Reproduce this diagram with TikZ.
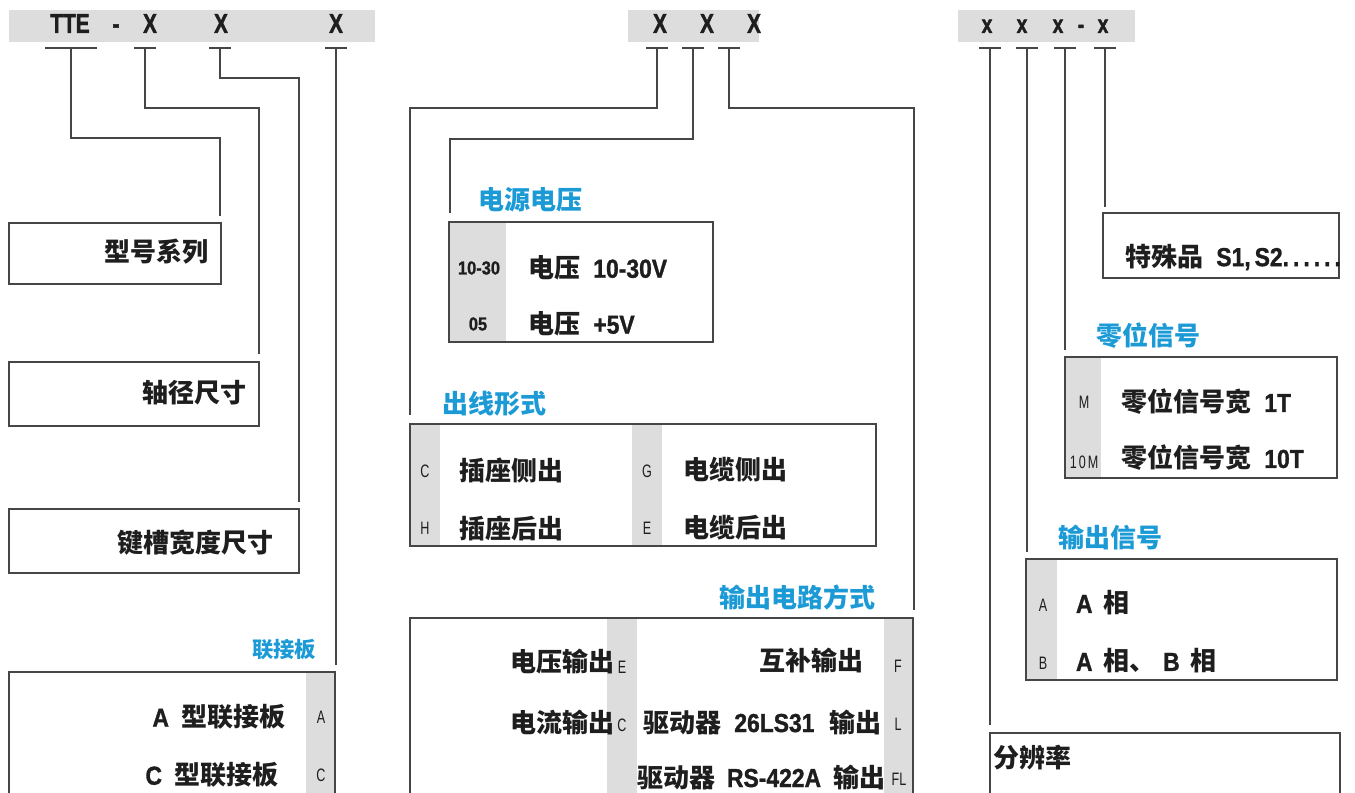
\documentclass[tikz,border=0pt]{standalone}
\usepackage{fontspec}
\setmainfont{Liberation Sans}
\newfontfamily\cjk{Noto Sans CJK SC}
\newfontfamily\latn{Liberation Sans}[FakeStretch=0.88, BoldFeatures={FakeBold=1.2}]
\newfontfamily\hdrf{Liberation Sans}[FakeStretch=0.76, BoldFeatures={FakeBold=1.6}]
\newfontfamily\smlf{Liberation Sans}[FakeStretch=0.7]
\usetikzlibrary{fit,calc}
\definecolor{hdgray}{RGB}{221,221,221}
\definecolor{ttlblue}{RGB}{27,154,214}
\definecolor{ink}{RGB}{30,30,30}
\definecolor{lnc}{RGB}{70,70,70}
\newcommand\lt[1]{{\latn\bfseries\fontsize{19.5}{21}\selectfont #1}}
\tikzset{
 every node/.style={inner sep=0pt, outer sep=0pt},
 box/.style={draw=lnc, line width=0.9pt},
 gcol/.style={fill=hdgray},
 hdbar/.style={fill=hdgray},
 conn/.style={draw=lnc, line width=0.8pt},
 hdtxt/.style={font=\hdrf\bfseries\fontsize{20.5}{22}\selectfont, text=ink, anchor=base},
 hdtxs/.style={font=\hdrf\bfseries\fontsize{19}{22}\selectfont, text=ink, anchor=base},
 cj/.style={font=\cjk\bfseries\fontsize{19.5}{22}\selectfont, text=ink},
 ttl/.style={font=\cjk\bfseries\fontsize{19.5}{22}\selectfont, text=ttlblue},
 ttls/.style={font=\cjk\bfseries\fontsize{16}{18}\selectfont, text=ttlblue},
 sm/.style={font=\smlf\fontsize{13.5}{15}\selectfont, text=ink},
 smb/.style={font=\latn\bfseries\fontsize{14}{16}\selectfont, text=ink},
}
\begin{document}
\begin{tikzpicture}[x=0.75pt,y=-0.75pt]
\clip (0,0) rectangle (1355,792);
% ===== left header =====
\node[hdbar, fit={(9,10)(375,42)}] (hdL) {};
\node[hdtxt] (tT) at (70,33) {TTE};
\node[hdtxt] (tD) at (116,33) {-};
\node[hdtxt] (tX1) at (150,33) {X};
\node[hdtxt] (tX2) at (221,33) {X};
\node[hdtxt] (tX3) at (336,33) {X};
\coordinate (uT) at (71,48);
\coordinate (uX1) at (145,48);
\coordinate (uX2) at (220,48);
\coordinate (uX3) at (336,48);
\draw[conn] ($(uT)+(-26,0)$) -- ($(uT)+(26,0)$);
\foreach \u in {uX1,uX2,uX3} \draw[conn] ($(\u)+(-11,0)$) -- ($(\u)+(11,0)$);
% left boxes
\node[box, fit={(9,223)(221,284)}] (bSer) {};
\node[cj, anchor=east] (tSer) at (208,252) {型号系列};
\node[box, fit={(9,362)(259,426)}] (bAx) {};
\node[cj, anchor=east] (tAx) at (246,393) {轴径尺寸};
\node[box, fit={(9,509)(299,573)}] (bKey) {};
\node[cj, anchor=east] (tKey) at (273,543) {键槽宽度尺寸};
\node[ttls, anchor=west] (tPlT) at (252,650) {联接板};
\node[gcol, fit={(306,672)(335,800)}] (gPl) {};
\node[box, fit={(9,672)(335,800)}] (bPl) {};
\node[cj, anchor=east] (tPa) at (285,717) {\lt{A}\hspace{9pt}型联接板};
\node[cj, anchor=east] (tPc) at (278,775) {\lt{C}\hspace{9pt}型联接板};
\node[sm] (lPa) at (321,717) {A};
\node[sm] (lPc) at (321,775) {C};
\draw[conn] (uT) -- ++(0,90) -| ($(bSer.north east)+(-1,-7)$);
\draw[conn] (uX1) -- ++(0,60) -| ($(bAx.north east)+(0,-8)$);
\draw[conn] (uX2) -- ++(0,30) -| ($(bKey.north east)+(0,-7)$);
\draw[conn] (uX3) -- ($(uX3 |- bPl.north)+(0,-7)$);
% ===== middle header =====
\node[hdbar, fit={(628,10)(759,42)}] (hdM) {};
\node[hdtxt] (tM1) at (660,33) {X};
\node[hdtxt] (tM2) at (707,33) {X};
\node[hdtxt] (tM3) at (754,33) {X};
\coordinate (uM1) at (657,48);
\coordinate (uM2) at (693,48);
\coordinate (uM3) at (729,48);
\foreach \u in {uM1,uM2,uM3} \draw[conn] ($(\u)+(-11,0)$) -- ($(\u)+(11,0)$);
% supply voltage
\node[ttl, anchor=west] (tVT) at (478,200) {电源电压};
\node[gcol, fit={(449,222)(506,342)}] (gV) {};
\node[box, fit={(449,222)(713,342)}] (bV) {};
\node[smb] (lV1) at (479,268) {10-30};
\node[smb] (lV2) at (478,324) {05};
\node[cj, anchor=west] (tV1) at (528,268) {电压\hspace{10pt}\lt{10-30V}};
\node[cj, anchor=west] (tV2) at (528,324) {电压\hspace{10pt}\lt{+5V}};
% outlet form
\node[ttl, anchor=west] (tOT) at (442,404) {出线形式};
\node[gcol, fit={(410,424)(440,546)}] (gO1) {};
\node[gcol, fit={(632,424)(662,546)}] (gO2) {};
\node[box, fit={(410,424)(876,546)}] (bO) {};
\node[sm] (lO1) at (425,471) {C};
\node[sm] (lO2) at (425,528) {H};
\node[sm] (lO3) at (647,471) {G};
\node[sm] (lO4) at (647,528) {E};
\node[cj, anchor=west] (tO1) at (459,470) {插座侧出};
\node[cj, anchor=west] (tO2) at (459,528) {插座后出};
\node[cj, anchor=west] (tO3) at (683,470) {电缆侧出};
\node[cj, anchor=west] (tO4) at (683,528) {电缆后出};
% output circuit
\node[ttl, anchor=east] (tCT) at (875,597) {输出电路方式};
\node[gcol, fit={(607,618)(637,800)}] (gC1) {};
\node[gcol, fit={(884,618)(913,800)}] (gC2) {};
\node[box, fit={(410,618)(913,800)}] (bC) {};
\node[cj, anchor=east] (tC1) at (614,662) {电压输出};
\node[sm] (lC1) at (622,667) {E};
\node[cj, anchor=east] (tC2) at (614,722) {电流输出};
\node[sm] (lC2) at (622,725) {C};
\node[cj, anchor=east] (tC3) at (863,660) {互补输出};
\node[sm] (lC3) at (898,666) {F};
\node[cj, anchor=west] (tC4) at (643,722) {驱动器\hspace{10pt}\lt{26LS31}\hspace{11pt}输出};
\node[sm] (lC4) at (898,724) {L};
\node[cj, anchor=west] (tC5) at (637,777) {驱动器\hspace{9pt}\lt{RS-422A}\hspace{9pt}输出};
\node[sm] (lC5) at (899,779) {FL};
\draw[conn] (uM1) -- ++(0,60) -| ($(bO.north west)+(0,-9)$);
\draw[conn] (uM2) -- ++(0,91) -| ($(bV.north west)+(1,-9)$);
\draw[conn] (uM3) -- ++(0,60) -| ($(bC.north east)+(1,-8)$);
% ===== right header =====
\node[hdbar, fit={(958,10)(1135,42)}] (hdR) {};
\node[hdtxs] (tR1) at (987,33) {x};
\node[hdtxs] (tR2) at (1022,33) {x};
\node[hdtxs] (tR3) at (1058,33) {x};
\node[hdtxs] (tRD) at (1081,33) {-};
\node[hdtxs] (tR4) at (1103,33) {x};
\coordinate (uR1) at (990,48);
\coordinate (uR2) at (1027,48);
\coordinate (uR3) at (1065,48);
\coordinate (uR4) at (1105,48);
\foreach \u in {uR1,uR2,uR3,uR4} \draw[conn] ($(\u)+(-11,0)$) -- ($(\u)+(11,0)$);
% special
\node[box, fit={(1103,213)(1339,278)}] (bS) {};
\node[cj, anchor=west] (tS) at (1125,257) {特殊品\hspace{10pt}\lt{S1,\kern3pt S2.\kern3pt.\kern3pt.\kern3pt.\kern3pt.\kern3pt.}};
% zero signal
\node[ttl, anchor=west] (tZT) at (1096,336) {零位信号};
\node[gcol, fit={(1065,357)(1101,478)}] (gZ) {};
\node[box, fit={(1065,357)(1337,478)}] (bZ) {};
\node[sm] (lZ1) at (1084,402) {M};
\node[sm] (lZ2) at (1084,462) {1\kern1.5pt0\kern1.5pt M};
\node[cj, anchor=west] (tZ1) at (1121,402) {零位信号宽\hspace{10pt}\lt{1T}};
\node[cj, anchor=west] (tZ2) at (1121,458) {零位信号宽\hspace{10pt}\lt{10T}};
% output signal
\node[ttl, anchor=west] (tGT) at (1058,538) {输出信号};
\node[gcol, fit={(1026,559)(1057,680)}] (gG) {};
\node[box, fit={(1026,559)(1337,680)}] (bSig) {};
\node[sm] (lG1) at (1043,605) {A};
\node[sm] (lG2) at (1043,663) {B};
\node[cj, anchor=west] (tG1) at (1076,603) {\lt{A}\hspace{8pt}相};
\node[cj, anchor=west] (tG2) at (1076,661) {\lt{A}\hspace{8pt}相、\hspace{6pt}\lt{B}\hspace{8pt}相};
% resolution
\node[box, fit={(990,733)(1340,800)}] (bRes) {};
\node[cj, anchor=west] (tRes) at (993,758) {分辨率};
\draw[conn] (uR1) -- ($(uR1 |- bRes.north)+(0,-8)$);
\draw[conn] (uR2) -- ($(uR2 |- bSig.north)+(0,-7)$);
\draw[conn] (uR3) -- ($(uR3 |- bZ.north)+(0,-7)$);
\draw[conn] (uR4) -- ($(uR4 |- bS.north)+(0,-6)$);
\end{tikzpicture}
\end{document}
